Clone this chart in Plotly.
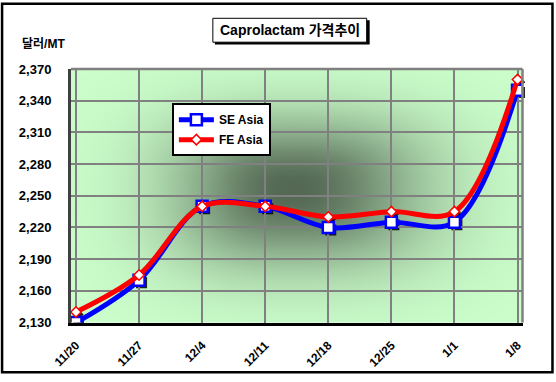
import base64
import struct
import zlib

import numpy as np
import plotly.graph_objects as go

# ---------------- data ----------------
dates = ["11/20", "11/27", "12/4", "12/11", "12/18", "12/25", "1/1", "1/8"]
se_asia = [2130, 2170, 2240, 2240, 2220, 2225, 2225, 2350]
fe_asia = [2140, 2175, 2240, 2240, 2230, 2235, 2235, 2360]
y_ticks = [2130, 2160, 2190, 2220, 2250, 2280, 2310, 2340, 2370]
title_text = "Caprolactam 가격추이"
y_unit = "달러/MT"

# ---------------- layout geometry (pixels) ----------------
W, H = 556, 382
PL, PR, PT, PB = 71, 523, 69, 329  # main plot area edges
SH = 2.5                            # marker shadow offset (px)
AL, AR, AT, AB = PL, PR + SH, PT, PB + SH  # region holding both subplots
AW, AH = AR - AL, AB - AT


def px2x(px):
    return (px - AL) / AW


def py2y(py):
    return (AB - py) / AH


FONT = "Arial, 'Liberation Sans', 'Noto Sans CJK KR', sans-serif"


# ---------------- background gradient (style only) ----------------
def make_png(rgb):
    h, w, _ = rgb.shape
    raw = b"".join(b"\x00" + rgb[r].tobytes() for r in range(h))

    def chunk(tag, data):
        c = struct.pack(">I", len(data)) + tag + data
        return c + struct.pack(">I", zlib.crc32(tag + data) & 0xFFFFFFFF)

    png = (b"\x89PNG\r\n\x1a\n"
           + chunk(b"IHDR", struct.pack(">IIBBBBB", w, h, 8, 2, 0, 0, 0))
           + chunk(b"IDAT", zlib.compress(raw, 9))
           + chunk(b"IEND", b""))
    return "data:image/png;base64," + base64.b64encode(png).decode()


gw, gh = PR - PL, PB - PT
gx, gy = np.meshgrid(np.arange(gw) + 0.5, np.arange(gh) + 0.5)
cx, cy = 292 - PL, 192 - PT
dx = np.abs(gx - cx) / np.where(gx < cx, 160.0, 180.0)
dy = np.abs(gy - cy) / np.where(gy < cy, 98.0, 108.0)
p = 2.6
r = (dx ** p + dy ** p) ** (1.0 / p)
f = np.exp(-1.9 * r ** 2)
light = np.array([204, 255, 204], dtype=float)
dark = np.array([84, 104, 84], dtype=float)
img = light[None, None, :] + (dark - light)[None, None, :] * f[..., None]
img = np.clip(img, 0, 255).astype(np.uint8)
bg_uri = make_png(img)

# ---------------- figure ----------------
fig = go.Figure()

# marker shadows (subplot xy, drawn first, shifted by SH px right/down)
fig.add_trace(go.Scatter(
    x=dates, y=se_asia, mode="markers", showlegend=False, hoverinfo="skip",
    marker=dict(symbol="square", size=11, color="rgba(0,0,0,0.85)"),
    xaxis="x", yaxis="y",
))
fig.add_trace(go.Scatter(
    x=dates, y=fe_asia, mode="markers", showlegend=False, hoverinfo="skip",
    marker=dict(symbol="diamond", size=8, color="rgba(0,0,0,0.85)"),
    xaxis="x", yaxis="y",
))

# main series (subplot x2y2)
fig.add_trace(go.Scatter(
    x=dates, y=se_asia, name="SE Asia", mode="lines+markers",
    line=dict(color="#0000FF", width=5, shape="spline", smoothing=1.0),
    marker=dict(symbol="square", size=11, color="white",
                line=dict(color="#0000FF", width=2.5)),
    legendgroup="se", xaxis="x2", yaxis="y2",
))
fig.add_trace(go.Scatter(
    x=dates, y=fe_asia, name="FE Asia", mode="lines+markers",
    line=dict(color="#FF0000", width=5, shape="spline", smoothing=1.0),
    marker=dict(symbol="diamond", size=8, color="white",
                line=dict(color="#FF0000", width=1.5)),
    legendgroup="fe", xaxis="x2", yaxis="y2",
))

main_xdom = [0, (PR - PL) / AW]
main_ydom = [SH / AH, 1]
shad_xdom = [SH / AW, 1]
shad_ydom = [0, 1 - SH / AH]

shapes = [
    # outer chart frame
    dict(type="rect", xref="paper", yref="paper",
         x0=px2x(2), x1=px2x(553), y0=py2y(380), y1=py2y(2),
         line=dict(color="black", width=2.5), fillcolor="rgba(0,0,0,0)", layer="below"),
    # plot area top/right border
    dict(type="line", xref="paper", yref="paper",
         x0=px2x(PL), x1=px2x(PR), y0=py2y(PT), y1=py2y(PT),
         line=dict(color="#808080", width=2.5)),
    dict(type="line", xref="paper", yref="paper",
         x0=px2x(PR), x1=px2x(PR), y0=py2y(PB), y1=py2y(PT),
         line=dict(color="#808080", width=2.5)),
    # title box shadow + box
    dict(type="rect", xref="paper", yref="paper",
         x0=px2x(215), x1=px2x(370), y0=py2y(44), y1=py2y(19),
         line=dict(width=0), fillcolor="black"),
    dict(type="rect", xref="paper", yref="paper",
         x0=px2x(213), x1=px2x(367), y0=py2y(41.5), y1=py2y(17),
         line=dict(color="black", width=1), fillcolor="white"),
]

annotations = [
    dict(text=title_text, xref="paper", yref="paper", x=px2x(290), y=py2y(29.5),
         xanchor="center", yanchor="middle", showarrow=False,
         font=dict(family=FONT, size=14, color="black", weight="bold")),
    dict(text=y_unit, xref="paper", yref="paper", x=px2x(20), y=py2y(43),
         xanchor="left", yanchor="middle", showarrow=False,
         font=dict(family=FONT, size=12, color="black", weight="bold")),
]

hidden = dict(showgrid=False, showline=False, showticklabels=False, ticks="",
              zeroline=False, fixedrange=True)

fig.update_layout(
    width=W, height=H,
    margin=dict(l=AL, r=W - AR, t=AT, b=H - AB, pad=0),
    paper_bgcolor="white",
    plot_bgcolor="rgba(0,0,0,0)",
    font=dict(family=FONT, color="black"),
    showlegend=True,
    legend=dict(
        x=px2x(172), y=py2y(104), xanchor="left", yanchor="top",
        bgcolor="white", bordercolor="black", borderwidth=2,
        font=dict(family=FONT, size=12, color="black", weight="bold"),
        traceorder="grouped", tracegroupgap=1, itemwidth=35,
    ),
    images=[dict(source=bg_uri, xref="paper", yref="paper",
                 x=px2x(PL), y=py2y(PT),
                 sizex=(PR - PL) / AW, sizey=(PB - PT) / AH,
                 xanchor="left", yanchor="top",
                 sizing="stretch", layer="below")],
    shapes=shapes,
    annotations=annotations,
    xaxis=dict(type="category", range=[-0.079, 7.079], domain=shad_xdom,
               anchor="y", **hidden),
    yaxis=dict(range=[2130, 2370], domain=shad_ydom, anchor="x", **hidden),
    xaxis2=dict(
        type="category", range=[-0.079, 7.079], domain=main_xdom, anchor="y2",
        showgrid=True, gridcolor="#808080", gridwidth=2,
        showline=True, linecolor="black", linewidth=3,
        ticks="", tickangle=-45, ticklabelstandoff=8,
        tickfont=dict(family=FONT, size=12, color="black", weight="bold"),
        zeroline=False, fixedrange=True,
    ),
    yaxis2=dict(
        range=[2130, 2370], tickvals=y_ticks, tickformat=",d",
        domain=main_ydom, anchor="x2",
        showgrid=True, gridcolor="#808080", gridwidth=2,
        showline=True, linecolor="#404040", linewidth=3,
        ticks="", ticklabelstandoff=14,
        tickfont=dict(family=FONT, size=13, color="black", weight="bold"),
        zeroline=False, fixedrange=True,
    ),
)

fig.write_html(
    "out.html",
    config={"displayModeBar": False},
    post_script="document.body.style.margin='0';document.body.style.overflow='hidden';",
)
